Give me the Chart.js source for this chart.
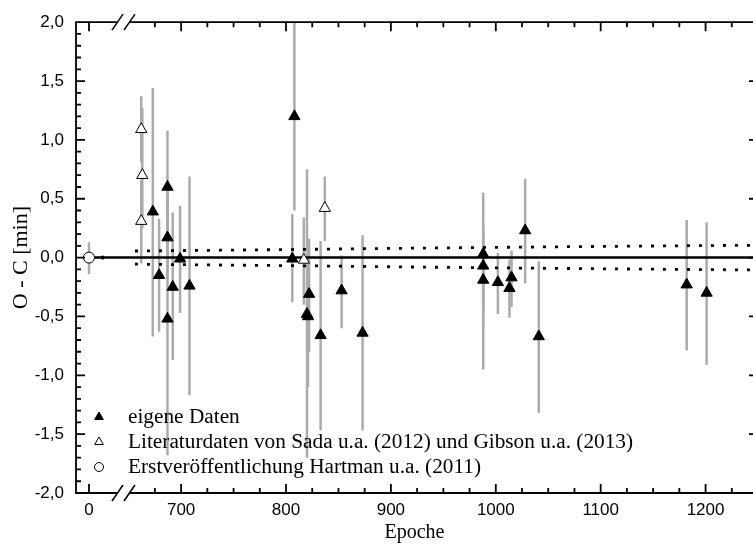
<!DOCTYPE html>
<html>
<head>
<meta charset="utf-8">
<script src="https://cdn.jsdelivr.net/npm/chart.js@4.4.0/dist/chart.umd.min.js"></script>
<style>
  html, body { margin: 0; padding: 0; background: #fff; }
  canvas { display: block; }
</style>
</head>
<body>
<canvas id="ocChart" width="753" height="545"></canvas>
<script>
// eigene Daten (Epoche, O-C, untere / obere Fehlergrenze)
const ownEpoch = [673, 679, 687, 687, 687, 692, 699, 708, 808, 806, 822, 820, 821, 833, 853, 873,
                  988, 988, 988, 1002, 1015, 1013, 1028, 1041, 1182, 1201];
const ownOC    = [0.39, -0.15, 0.60, 0.17, -0.52, -0.25, -0.01, -0.24, 1.20, -0.01, -0.31, -0.48, -0.50, -0.66, -0.28, -0.64,
                  0.03, -0.07, -0.19, -0.21, -0.17, -0.26, 0.23, -0.67, -0.23, -0.30];
const ownLo    = [-0.67, -0.63, 0.13, -0.18, -1.68, -0.87, -0.47, -1.17, 0.40, -0.38, -0.80, -1.70, -1.10, -1.47, -0.60, -1.47,
                  -0.95, -0.45, -0.60, -0.48, -0.42, -0.51, -0.22, -1.32, -0.79, -0.91];
const ownHi    = [1.44, 0.33, 1.08, 0.52, 0.64, 0.38, 0.44, 0.69, 2.05, 0.37, 0.16, 0.75, 0.10, 0.14, 0.02, 0.19,
                  0.55, 0.30, 0.20, 0.04, 0.06, -0.02, 0.67, -0.03, 0.32, 0.30];

// Literaturdaten Sada u.a. (2012) / Gibson u.a. (2013)
const litEpoch = [662, 663, 662, 817, 837];
const litOC    = [1.09, 0.70, 0.31, -0.02, 0.42];
const litLo    = [0.81, 0.25, -0.05, -0.40, 0.14];
const litHi    = [1.37, 1.27, 0.66, 0.34, 0.69];

// Erstveroeffentlichung Hartman u.a. (2011)
const hatEpoch = [0];
const hatOC    = [0.0];
const hatLo    = [-0.14];
const hatHi    = [0.13];

// Konfidenzband der Ephemeride
const bandEpochL = [0, 23];
const bandL      = [0.002, 0.004];
const bandEpochR = [656, 700, 800, 900, 1000, 1100, 1200, 1250];
const bandR      = [0.056, 0.060, 0.068, 0.078, 0.087, 0.095, 0.102, 0.105];

const xMajor = [0, 700, 800, 900, 1000, 1100, 1200];
const xMinor = [675, 725, 750, 775, 825, 850, 875, 925, 950, 975, 1025, 1050, 1075, 1125, 1150, 1175, 1225];
const yMajor = [-2, -1.5, -1, -0.5, 0, 0.5, 1, 1.5, 2];

const legendLabels = [
  'eigene Daten',
  'Literaturdaten von Sada u.a. (2012) und Gibson u.a. (2013)',
  'Erstveröffentlichung Hartman u.a. (2011)'
];

// unterbrochene x-Achse: [-13, 23] | Luecke | [656, 1250]
const BRK = { e0: -13, e1: 23, e2: 656, e3: 1250, f1: 0.0532, f2: 0.0871, f3: 1.0074 };

class BrokenScale extends Chart.LinearScale {
  static id = 'broken';
  static defaults = Chart.LinearScale.defaults;
  getPixelForValue(v) {
    if (v === null || v === undefined) return NaN;
    let f;
    if (v <= BRK.e1) f = (v - BRK.e0) / (BRK.e1 - BRK.e0) * BRK.f1;
    else if (v < BRK.e2) f = BRK.f1 + (v - BRK.e1) / (BRK.e2 - BRK.e1) * (BRK.f2 - BRK.f1);
    else f = BRK.f2 + (v - BRK.e2) / (BRK.e3 - BRK.e2) * (BRK.f3 - BRK.f2);
    return this.left + f * this.width;
  }
  getValueForPixel(p) {
    const f = (p - this.left) / this.width;
    if (f <= BRK.f1) return BRK.e0 + f / BRK.f1 * (BRK.e1 - BRK.e0);
    if (f < BRK.f2) return BRK.e1 + (f - BRK.f1) / (BRK.f2 - BRK.f1) * (BRK.e2 - BRK.e1);
    return BRK.e2 + (f - BRK.f2) / (BRK.f3 - BRK.f2) * (BRK.e3 - BRK.e2);
  }
}
Chart.register(BrokenScale);

const pts = (xs, ys) => xs.map((x, i) => ({ x, y: ys[i] }));

const errSets = [
  { ep: hatEpoch, lo: hatLo, hi: hatHi },
  { ep: litEpoch, lo: litLo, hi: litHi },
  { ep: ownEpoch, lo: ownLo, hi: ownHi }
];

const errorBars = {
  id: 'errorBars',
  beforeDatasetsDraw(chart) {
    const { ctx, chartArea: a, scales: { x, y } } = chart;
    ctx.save();
    ctx.beginPath();
    ctx.rect(a.left, a.top, a.right - a.left, a.bottom - a.top);
    ctx.clip();
    ctx.strokeStyle = '#ababab';
    ctx.lineWidth = 2.5;
    errSets.forEach(s => s.ep.forEach((e, i) => {
      const px = x.getPixelForValue(e);
      ctx.beginPath();
      ctx.moveTo(px, y.getPixelForValue(s.lo[i]));
      ctx.lineTo(px, y.getPixelForValue(s.hi[i]));
      ctx.stroke();
    }));
    ctx.restore();
  }
};

const frame = {
  id: 'frame',
  afterDraw(chart) {
    const { ctx, chartArea: a, scales: { x, y } } = chart;
    const L = a.left, T = a.top, B = a.bottom, R = x.getPixelForValue(BRK.e3);
    const gapMid = (x.getPixelForValue(BRK.e1) + x.getPixelForValue(BRK.e2)) / 2;
    ctx.save();
    ctx.strokeStyle = '#000';
    ctx.lineWidth = 1.8;
    ctx.lineCap = 'butt';
    ctx.beginPath();
    // linke und rechte Achse
    ctx.moveTo(L, T); ctx.lineTo(L, B);
    ctx.moveTo(R, T); ctx.lineTo(R, B);
    // obere und untere Achse mit Bruch
    [T, B].forEach(yy => {
      ctx.moveTo(L - 0.9, yy); ctx.lineTo(gapMid - 6, yy);
      ctx.moveTo(gapMid + 6, yy); ctx.lineTo(R, yy);
    });
    // x-Ticks
    xMajor.forEach(v => {
      const px = x.getPixelForValue(v);
      ctx.moveTo(px, B); ctx.lineTo(px, B - 9);
      ctx.moveTo(px, T); ctx.lineTo(px, T + 9);
    });
    xMinor.forEach(v => {
      const px = x.getPixelForValue(v);
      ctx.moveTo(px, B); ctx.lineTo(px, B - 5);
      ctx.moveTo(px, T); ctx.lineTo(px, T + 5);
    });
    // y-Ticks
    for (let k = -20; k <= 20; k++) {
      const py = y.getPixelForValue(k / 10);
      const len = k % 5 === 0 ? 9 : 5;
      ctx.moveTo(L, py); ctx.lineTo(L + len, py);
      ctx.moveTo(R, py); ctx.lineTo(R - len, py);
    }
    ctx.stroke();
    // Bruchzeichen
    ctx.lineWidth = 1.5;
    ctx.beginPath();
    [T, B].forEach(yy => {
      [-6, 6].forEach(dx => {
        ctx.moveTo(gapMid + dx - 5.5, yy + 8);
        ctx.lineTo(gapMid + dx + 5.5, yy - 8);
      });
    });
    ctx.stroke();

    // x-Beschriftung
    ctx.fillStyle = '#000';
    ctx.font = '17px "Liberation Sans", Arial, sans-serif';
    ctx.textAlign = 'center';
    ctx.textBaseline = 'middle';
    xMajor.forEach(v => ctx.fillText(String(v), x.getPixelForValue(v), B + 17));

    // Legende
    const lx = 99, tx = 128, rows = [417, 442, 467];
    const styles = [
      { pointStyle: 'triangle', radius: 5, fill: '#000' },
      { pointStyle: 'triangle', radius: 5, fill: '#fff' },
      { pointStyle: 'circle', radius: 4.5, fill: '#fff' }
    ];
    ctx.font = '21.3px "Liberation Serif", "Times New Roman", serif';
    ctx.textAlign = 'left';
    legendLabels.forEach((t, i) => {
      ctx.fillStyle = styles[i].fill;
      ctx.strokeStyle = '#000';
      ctx.lineWidth = 1;
      Chart.helpers.drawPoint(ctx, { pointStyle: styles[i].pointStyle, radius: styles[i].radius, rotation: 0, borderWidth: 1 }, lx, rows[i]);
      ctx.fillStyle = '#000';
      ctx.fillText(t, tx, rows[i]);
    });
    ctx.restore();
  }
};

new Chart(document.getElementById('ocChart'), {
  type: 'scatter',
  data: {
    datasets: [
      { label: legendLabels[0], data: pts(ownEpoch, ownOC), pointStyle: 'triangle', pointRadius: 6.5,
        backgroundColor: '#000', borderColor: '#000', borderWidth: 1 },
      { label: legendLabels[1], data: pts(litEpoch, litOC), pointStyle: 'triangle', pointRadius: 6.5,
        backgroundColor: '#fff', borderColor: '#000', borderWidth: 1 },
      { label: legendLabels[2], data: pts(hatEpoch, hatOC), pointStyle: 'circle', pointRadius: 5.5,
        backgroundColor: '#fff', borderColor: '#000', borderWidth: 1 },
      { data: [{ x: 0, y: 0 }, { x: 1250, y: 0 }], showLine: true, pointRadius: 0,
        borderColor: '#000', borderWidth: 2.5 },
      { data: pts(bandEpochL, bandL), showLine: true, pointRadius: 0, borderColor: '#000', borderWidth: 2.8, borderDash: [3, 9] },
      { data: pts(bandEpochL, bandL.map(v => -v)), showLine: true, pointRadius: 0, borderColor: '#000', borderWidth: 2.8, borderDash: [3, 9] },
      { data: pts(bandEpochR, bandR), showLine: true, pointRadius: 0, borderColor: '#000', borderWidth: 2.8, borderDash: [3, 9] },
      { data: pts(bandEpochR, bandR.map(v => -v)), showLine: true, pointRadius: 0, borderColor: '#000', borderWidth: 2.8, borderDash: [3, 9] }
    ]
  },
  options: {
    responsive: false,
    animation: false,
    events: [],
    layout: { autoPadding: false, padding: { top: 19, right: 0, bottom: 0, left: 0 } },
    plugins: { legend: { display: false }, tooltip: { enabled: false } },
    scales: {
      x: {
        type: 'broken', min: -13, max: 1250,
        grid: { display: false, drawTicks: false }, border: { display: false },
        afterBuildTicks: s => { s.ticks = xMajor.map(v => ({ value: v })); },
        afterFit: s => { s.height = 52; },
        ticks: { display: false },
        title: { display: true, text: 'Epoche', color: '#000', padding: 0,
                 font: { family: 'Liberation Serif', size: 20 } }
      },
      y: {
        min: -2, max: 2,
        grid: { display: false, drawTicks: false }, border: { display: false },
        afterBuildTicks: s => { s.ticks = yMajor.map(v => ({ value: v })); },
        afterFit: s => { s.width = 76; },
        ticks: { font: { family: 'Liberation Sans', size: 17 }, color: '#000', padding: 12,
                 callback: v => Number(v).toFixed(1).replace('.', ',') },
        title: { display: true, text: 'O - C [min]', color: '#000', padding: { top: 8, bottom: 0 },
                 font: { family: 'Liberation Serif', size: 22 } }
      }
    }
  },
  plugins: [errorBars, frame]
});
</script>
</body>
</html>
